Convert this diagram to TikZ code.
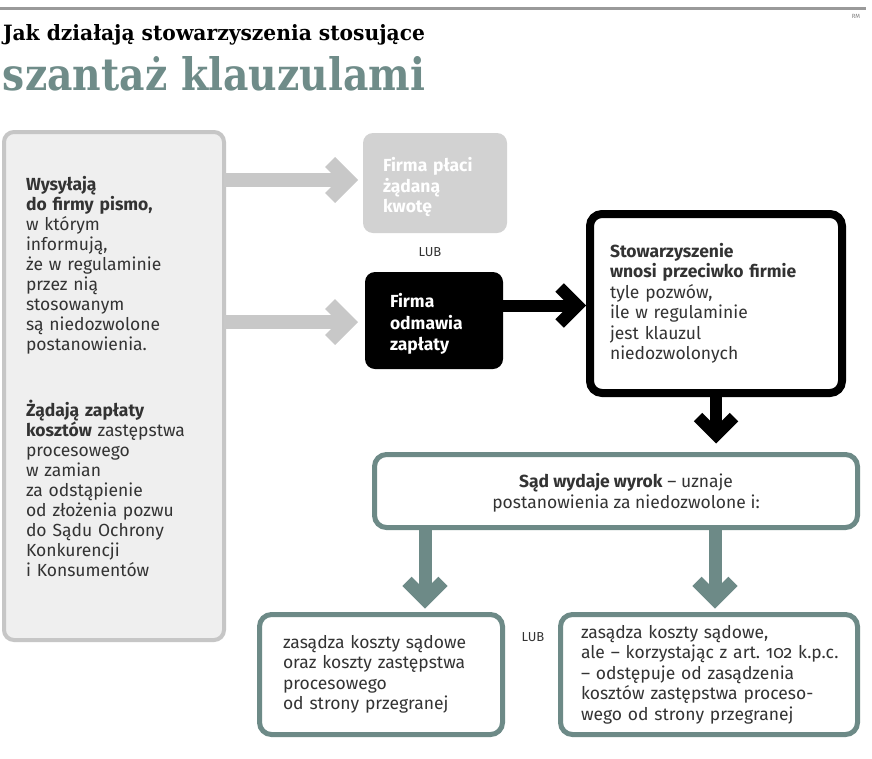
\documentclass[tikz,border=0pt]{standalone}
\usepackage{fontspec}
\setmainfont{Fira Sans}
\newfontfamily\titlefont{DejaVu Serif}
\usetikzlibrary{arrows.meta}
\definecolor{topgray}{HTML}{9A9A9A}
\definecolor{boxgray}{HTML}{EFEFEF}
\definecolor{bordergray}{HTML}{C6C6C6}
\definecolor{arrowgray}{HTML}{C8C8C8}
\definecolor{paygray}{HTML}{D2D2D2}
\definecolor{tealgray}{HTML}{6D8A87}
\definecolor{titleteal}{HTML}{6F8C89}
\definecolor{textgray}{HTML}{333333}
\hyphenpenalty=10000
\exhyphenpenalty=10000
\hfuzz=100pt
\frenchspacing
\tikzset{
  bodyfont/.style={font=\fontsize{17.5}{20.5}\selectfont},
  leftbox/.style={draw=bordergray, fill=boxgray, line width=4pt, rounded corners=10pt, align=left, text=textgray},
  paybox/.style={fill=paygray, rounded corners=10pt, align=left, text=white, font=\fontsize{17.5}{20.5}\selectfont\bfseries},
  refusebox/.style={fill=black, rounded corners=10pt, align=left, text=white, font=\fontsize{17.5}{21.5}\selectfont\bfseries},
  suitbox/.style={draw=black, fill=white, line width=8pt, rounded corners=12pt, align=left, text=textgray},
  tealbox/.style={draw=tealgray, fill=white, line width=5pt, rounded corners=12pt, align=left, text=textgray},
  grayarrow/.style={draw=arrowgray, line width=14pt, -{Straight Barb[length=18pt, width=36pt]}},
  blackarrow/.style={draw=black, line width=12pt, -{Straight Barb[length=18pt, width=36pt]}},
  tealarrow/.style={draw=tealgray, line width=13pt, -{Straight Barb[length=18pt, width=36pt]}},
  lub/.style={font=\fontsize{13}{15}\selectfont, text=textgray}
}
\begin{document}
\begin{tikzpicture}[x=1pt, y=-1pt, every node/.style={inner sep=0pt, outer sep=0pt}, bodyfont]
\useasboundingbox (0,0) rectangle (872,758);
\fill[white] (0,0) rectangle (872,758);
\draw[topgray, line width=3pt] (0,8) -- (866,8);
\node[font=\fontsize{6}{7}\selectfont, text=gray] (rm) at (856,16) {RM};
\node[anchor=base west] (t1) at (3,40) {\resizebox{422pt}{16pt}{\titlefont\bfseries Jak działają stowarzyszenia stosujące}};
\node[anchor=base west] (t2) at (3,90) {\resizebox{422pt}{34pt}{\titlefont\bfseries\color{titleteal}szantaż klauzulami}};

\node[leftbox, minimum width=220pt, minimum height=508pt, text width=176pt, inner xsep=22pt, font=\fontsize{17.5}{20}\selectfont] (L) at (114,386)
 {\textbf{Wysyłają}\\\textbf{do~firmy~pismo,}\\w~którym\\informują,\\że~w~regulaminie\\przez~nią\\stosowanym\\są~niedozwolone\\postanowienia.\\[45pt]
  \textbf{Żądają~zapłaty}\\\textbf{kosztów}~zastępstwa\\procesowego\\w~zamian\\za~odstąpienie\\od~złożenia~pozwu\\do~Sądu~Ochrony\\Konkurencji\\i~Konsumentów\\\mbox{}};

\node[paybox, minimum width=144pt, minimum height=100pt, text width=104pt, inner xsep=20pt] (P) at (435,183)
 {\rule{0pt}{23pt}Firma~płaci\\żądaną\\kwotę};
\node[lub] (lub1) at (430,252) {LUB};
\node[refusebox, minimum width=138pt, minimum height=97pt, text width=88pt, inner xsep=25pt] (R) at (434,320.5)
 {\rule{0pt}{21pt}Firma\\odmawia\\zapłaty};
\node[suitbox, minimum width=252pt, minimum height=179pt, text width=212pt, inner xsep=20pt] (S) at (716,303.5)
 {\textbf{Stowarzyszenie}\\\textbf{wnosi~przeciwko~firmie}\\tyle~pozwów,\\ile~w~regulaminie\\jest~klauzul\\niedozwolonych};
\node[tealbox, minimum width=483pt, minimum height=73pt] (W) at (616,491) {};
\node[align=center, text=textgray] (Wt) at (626,493) {\textbf{Sąd wydaje wyrok} – uznaje\\postanowienia za niedozwolone i:};
\node[tealbox, minimum width=243pt, minimum height=120pt, text width=196pt, inner xsep=23.5pt] (A) at (381,674.5)
 {zasądza~koszty~sądowe\\oraz~koszty~zastępstwa\\procesowego\\od~strony~przegranej};
\node[lub] (lub2) at (533,637) {LUB};
\node[tealbox, minimum width=297pt, minimum height=120pt, text width=256pt, inner xsep=20.5pt] (B) at (709,674.5)
 {zasądza~koszty~sądowe,\\\mbox{ale – korzystając z art.\ {\addfontfeature{Numbers=OldStyle}102} k.p.c.}\\–~odstępuje~od~zasądzenia\\kosztów~zastępstwa~proceso-\\wego~od~strony~przegranej};

\coordinate (g1) at ([yshift=3pt]P.west -| L.east);
\draw[grayarrow, shorten >=5pt] (g1) -- (g1 -| P.west);
\coordinate (g2) at (L.east |- 0,322);
\draw[grayarrow, shorten >=7pt] (g2) -- (g2 -| R.west);
\coordinate (b1) at ([yshift=15pt]R.east);
\draw[blackarrow, shorten >=4pt] (b1) -- (b1 -| S.west);
\draw[blackarrow, shorten >=11pt] (S.south) -- (S.south |- W.north);
\coordinate (d1) at (W.south -| 425,0);
\coordinate (d2) at (W.south -| 715,0);
\draw[tealarrow, shorten >=6pt] (d1) -- (d1 |- A.north);
\draw[tealarrow, shorten >=6pt] (d2) -- (d2 |- B.north);
\end{tikzpicture}
\end{document}
